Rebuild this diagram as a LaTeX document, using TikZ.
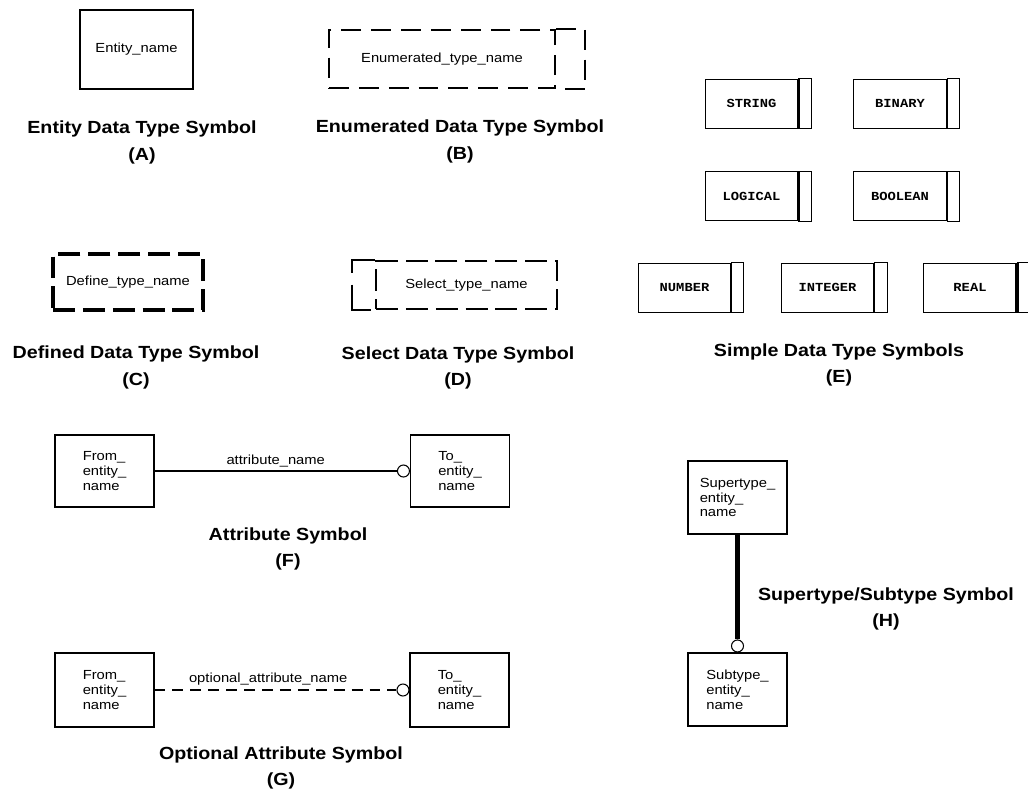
\documentclass[tikz,border=0pt]{standalone}
\usepackage{fontspec}
\setmainfont{Liberation Sans}[FakeStretch=1.12]
\setmonofont{Liberation Mono}[FakeStretch=1.12]
\usetikzlibrary{positioning}

\begin{document}
\begin{tikzpicture}[
    x=0.02cm, y=-0.02cm,
    font=\fontsize{7.5}{8.5}\selectfont,
    ent/.style={draw, line width=0.6pt, minimum width=1.98cm, minimum height=1.44cm, align=left, inner sep=0pt},
    dline/.style={line width=1.2pt, dash pattern=on 11.3pt off 5.7pt},
    dbox/.style={draw, dline, inner sep=0pt},
    simple/.style={draw, line width=0.5pt, minimum width=1.86cm, minimum height=0.98cm, inner sep=0pt, font=\fontsize{7}{8}\selectfont\ttfamily\bfseries},
    thickbar/.style={line width=2pt},
    thinbar/.style={line width=1.1pt},
    ring/.style={draw, circle, fill=white, line width=0.6pt, minimum size=0.24cm, inner sep=0pt},
    capt/.style={align=center, font=\fontsize{10}{15.3}\selectfont\bfseries}
]
\useasboundingbox (0,0) rectangle (1028,792);

\node[ent, minimum width=2.26cm, minimum height=1.58cm] (entity) at (136.5,49.5) {Entity\_name};
\node[capt] (capA) at (142,142.5) {Entity Data Type Symbol\\(A)};

\node[dbox, minimum width=4.52cm, minimum height=1.16cm] (enum) at (442,59) {Enumerated\_type\_name};
\draw[dline] (enum.north east) -- ++(29,0) |- (enum.south east);
\node[capt] (capB) at (460,141.5) {Enumerated Data Type Symbol\\(B)};

\node[dbox, line width=2pt, dash pattern=on 12.5pt off 4.5pt, minimum width=3cm, minimum height=1.12cm] (define) at (128,282) {Define\_type\_name};
\node[capt] (capC) at (136,367.5) {Defined Data Type Symbol\\(C)};

\node[dbox, dash pattern=on 12.5pt off 4.5pt, minimum width=3.62cm, minimum height=0.96cm] (select) at (466.5,285) {Select\_type\_name};
\draw[line width=1.2pt, dash pattern=on 20.4pt off 6.8pt on 25.5pt off 10pt] (select.north west) -- ++(-23,0) |- (select.south west);
\node[capt] (capD) at (458,368) {Select Data Type Symbol\\(D)};

\node[simple] (string) at (751.5,103.5) {STRING};
\draw[line width=0.5pt] (string.north east) -- ++(13,0) |- (string.south east);
\draw[thickbar] (string.north east) -- (string.south east);
\node[simple] (binary) at (900,103.5) {BINARY};
\draw[line width=0.5pt] (binary.north east) -- ++(12,0) |- (binary.south east);
\draw[thinbar] (binary.north east) -- (binary.south east);
\node[simple] (logical) at (751.5,196) {LOGICAL};
\draw[line width=0.5pt] (logical.north east) -- ++(13,0) |- (logical.south east);
\draw[thickbar] (logical.north east) -- (logical.south east);
\node[simple] (boolean) at (900,196) {BOOLEAN};
\draw[line width=0.5pt] (boolean.north east) -- ++(12,0) |- (boolean.south east);
\draw[thinbar] (boolean.north east) -- (boolean.south east);
\node[simple] (number) at (684.5,287.5) {NUMBER};
\draw[line width=0.5pt] (number.north east) -- ++(12,0) |- (number.south east);
\draw[thinbar] (number.north east) -- (number.south east);
\node[simple] (integer) at (827.5,287.5) {INTEGER};
\draw[line width=0.5pt] (integer.north east) -- ++(13,0) |- (integer.south east);
\draw[thinbar] (integer.north east) -- (integer.south east);
\node[simple] (real) at (970,287.5) {REAL};
\draw[line width=0.5pt] (real.north east) -- ++(13,0) |- (real.south east);
\draw[thickbar] (real.north east) -- (real.south east);
\node[capt] (capE) at (839,365) {Simple Data Type Symbols\\(E)};

\node[ent] (fromF) at (104.5,471) {From\_\\entity\_\\name};
\node[ent] (toF) at (460,471) {To\_\\entity\_\\name};
\node[ring, left=0pt of toF.west] (ringF) {};
\draw[line width=0.6pt] (fromF) -- node[midway, above, inner sep=2pt] {attribute\_name} (ringF);
\node[capt] (capF) at (288,549) {Attribute Symbol\\(F)};

\node[ent, minimum height=1.48cm] (fromG) at (104.5,690) {From\_\\entity\_\\name};
\node[ent, minimum height=1.48cm] (toG) at (459.5,690) {To\_\\entity\_\\name};
\node[ring, left=0pt of toG.west] (ringG) {};
\draw[line width=1.1pt, dash pattern=on 6.2pt off 4pt] (fromG) -- node[pos=0.47, above, inner sep=2pt] {optional\_attribute\_name} (ringG);
\node[capt] (capG) at (281,768) {Optional Attribute Symbol\\(G)};

\node[ent, minimum height=1.46cm] (super) at (737.5,497.5) {Supertype\_\\entity\_\\name};
\node[ent, minimum height=1.46cm] (sub) at (737.5,689.5) {Subtype\_\\entity\_\\name};
\node[ring, above=0pt of sub.north] (ringH) {};
\draw[line width=3.4pt] (super) -- (ringH);
\node[capt] (capH) at (886,609) {Supertype/Subtype Symbol\\(H)};
\end{tikzpicture}
\end{document}
